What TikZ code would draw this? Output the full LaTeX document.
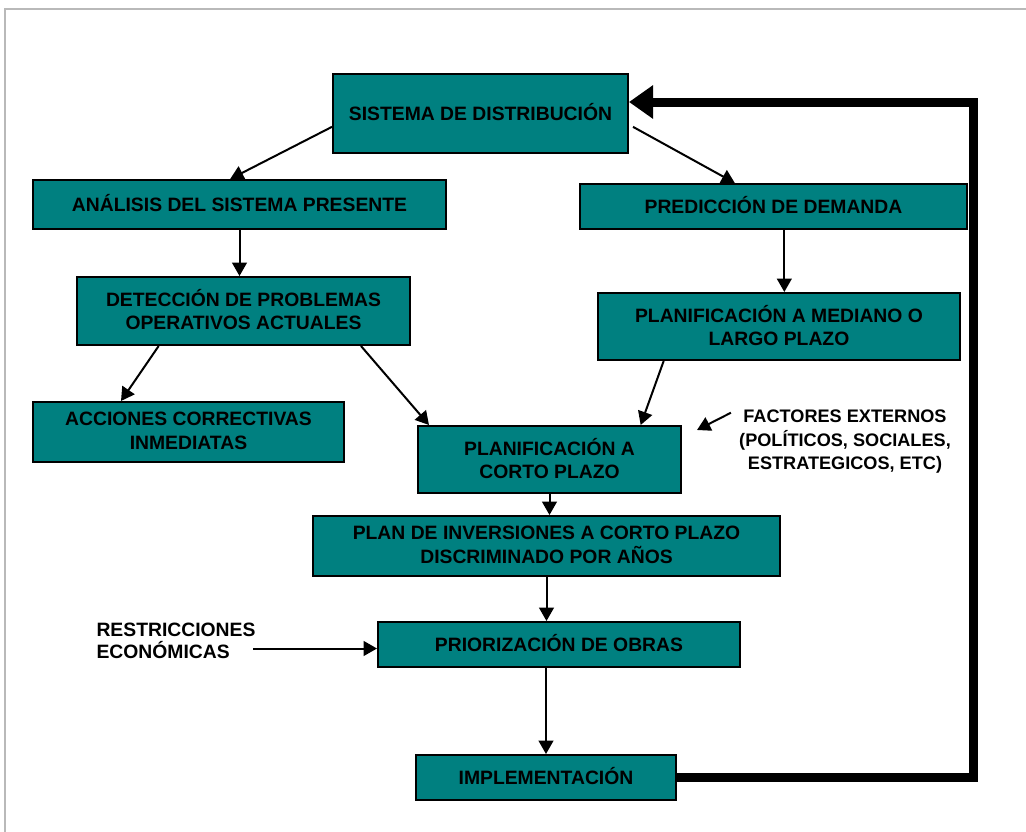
\documentclass[tikz,border=0pt]{standalone}
\usepackage{xcolor}
\usepackage{fontspec}
\setmainfont{Liberation Sans}
\usepackage{tikz}
\usetikzlibrary{arrows.meta,calc}

\tikzset{
    etapa/.style={draw=black, line width=1.5pt, fill=teal, align=center, inner sep=0pt,
        text depth=2pt, font=\fontsize{14.5}{17.5}\selectfont\bfseries},
    flecha/.style={line width=1.5pt, -{Triangle[length=10pt,width=11pt]}},
    retorno/.style={line width=6.75pt, miter limit=10, -{Triangle[length=18pt,width=24pt]}}
}

\begin{document}
\begin{tikzpicture}[x=0.75pt, y=-0.75pt]
    %own code
    \useasboundingbox (0,0) rectangle (1026,832);
    \draw[gray!55, line width=1.5pt] (5,832) -- (5,9) -- (1026,9);

    \node[etapa, minimum width=221.25pt, minimum height=59.25pt] (sist) at (480.5,113.5) {SISTEMA DE DISTRIBUCIÓN};
    \node[etapa, minimum width=309.75pt, minimum height=36.75pt] (anal) at (239.5,204.5) {ANÁLISIS DEL SISTEMA PRESENTE};
    \node[etapa, minimum width=290.25pt, minimum height=33.75pt] (pred) at (773.5,206.5) {PREDICCIÓN DE DEMANDA};
    \node[etapa, minimum width=249.75pt, minimum height=51pt] (detec) at (243.5,311) {DETECCIÓN DE PROBLEMAS\\OPERATIVOS ACTUALES};
    \node[etapa, minimum width=271.5pt, minimum height=50.25pt] (plmed) at (779,326.5) {PLANIFICACIÓN A MEDIANO O\\LARGO PLAZO};
    \node[etapa, minimum width=233.25pt, minimum height=45pt] (acc) at (188.5,432) {ACCIONES CORRECTIVAS\\INMEDIATAS};
    \node[etapa, minimum width=197.25pt, minimum height=50.25pt] (corto) at (549.5,459.5) {PLANIFICACIÓN A\\CORTO PLAZO};
    \node[etapa, minimum width=350.25pt, minimum height=45pt] (inv) at (546.5,546) {PLAN DE INVERSIONES A CORTO PLAZO\\DISCRIMINADO POR AÑOS};
    \node[etapa, minimum width=271.5pt, minimum height=33.75pt] (prio) at (559,644.5) {PRIORIZACIÓN DE OBRAS};
    \node[etapa, minimum width=195pt, minimum height=33.75pt] (impl) at (546,777.5) {IMPLEMENTACIÓN};

    \node[align=center, inner sep=0pt, font=\fontsize{13.6}{17.6}\selectfont\bfseries] (fact) at (845,442) {FACTORES EXTERNOS\\(POLÍTICOS, SOCIALES,\\ESTRATEGICOS, ETC)};
    \node[align=left, inner sep=0pt, font=\fontsize{14.5}{16.5}\selectfont\bfseries] (restr) at (176,641) {RESTRICCIONES\\ECONÓMICAS};

    \draw[flecha] ([yshift=-10pt]sist.west) -- ([xshift=-7pt]anal.north);
    \draw[flecha] ([xshift=3pt,yshift=-10pt]sist.east) -- ([xshift=-29pt]pred.north);
    \draw[flecha] (anal.south) -- (anal.south |- detec.north);
    \draw[flecha] ([xshift=4pt]pred.south -| plmed.north) -- ([xshift=4pt]plmed.north);
    \draw[flecha] ([xshift=62pt]detec.south west) -- ([xshift=66.75pt]acc.north west);
    \draw[flecha] ([xshift=-37.5pt]detec.south east) -- ([xshift=9pt]corto.north west);
    \draw[flecha] ([xshift=50pt]plmed.south west) -- ([xshift=-31pt]corto.north east);
    \coordinate (ext) at (697,430);
    \draw[flecha] ([xshift=-6pt,yshift=-2pt]fact.north west) -- (ext);
    \draw[flecha] (corto.south) -- (corto.south |- inv.north);
    \draw[flecha] (inv.south) -- (inv.south |- prio.north);
    \coordinate (re) at ([yshift=-3pt]prio.west);
    \draw[flecha] ([xshift=-2pt]restr.east |- re) -- (re);
    \draw[flecha] (impl.north |- prio.south) -- (impl.north);

    \coordinate (fb) at (973,102);
    \draw[retorno] (impl.east) -| (fb) -- (sist.east |- fb);

\end{tikzpicture}
\end{document}
